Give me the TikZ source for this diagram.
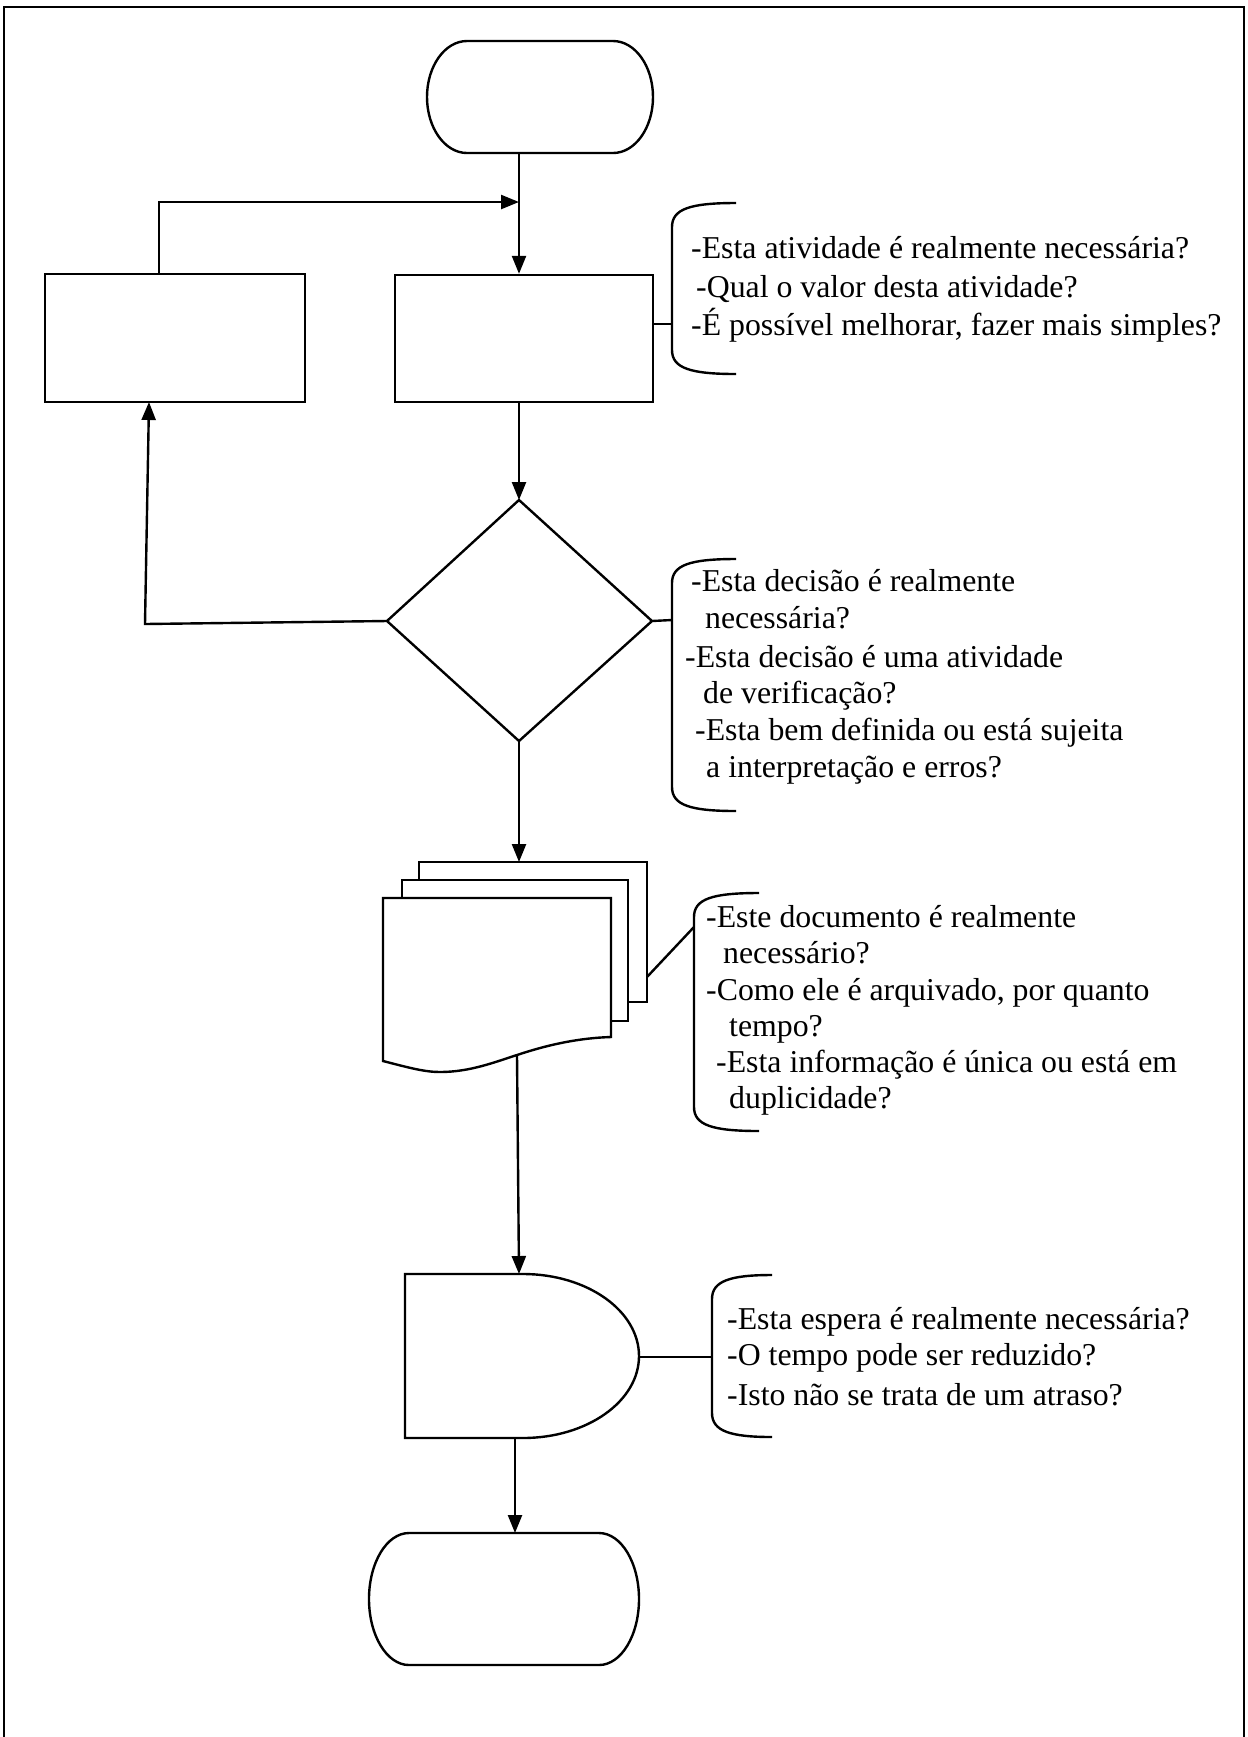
\documentclass[tikz,border=0pt]{standalone}
\usepackage{fontspec}
\setmainfont{Liberation Serif}
\usetikzlibrary{arrows.meta}
\newcommand\qbrk[4]{% L R T B
  \draw (#2,#3) .. controls (#1+18,#3) and (#1,#3+6) .. (#1,#3+24) -- (#1,#4-24) .. controls (#1,#4-6) and (#1+18,#4) .. (#2,#4);}
\begin{document}
\begin{tikzpicture}[x=0.5pt,y=-0.5pt, line width=1.2pt,
  arr/.style={-{Triangle[length=9pt,width=7pt]}},
  box/.style={draw, rectangle, inner sep=0pt, fill=white},
  qtext/.style={anchor=base west, inner sep=0pt, font=\fontsize{15.9pt}{19pt}\selectfont}]
\useasboundingbox (0,0) rectangle (1248,1737);
% frame
\draw[line width=1.3pt] (4,1737) -- (4,7) -- (1244,7) -- (1244,1737);

% start terminal
\draw (467,41) -- (613,41) .. controls (635.1,41) and (653,66.1) .. (653,97)
  .. controls (653,127.9) and (635.1,153) .. (613,153) -- (467,153)
  .. controls (444.9,153) and (427,127.9) .. (427,97)
  .. controls (427,66.1) and (444.9,41) .. (467,41) -- cycle;
\coordinate (startS) at (519,153);

% boxes
\node[box, minimum width=130pt, minimum height=64pt] (left) at (175,338) {};
\node[box, minimum width=129pt, minimum height=63.5pt] (act) at (524,338.5) {};
\coordinate (fbA) at (159,274);
\coordinate (fbB) at (519,202);

% diamond
\coordinate (dT) at (519,500);
\coordinate (dR) at (652,621);
\coordinate (dB) at (519,741);
\coordinate (dL) at (387,621);
\draw (dT) -- (dR) -- (dB) -- (dL) -- cycle;

% document stack
\draw[fill=white] (419,862) rectangle (647,1002);
\draw[fill=white] (402,880) rectangle (628,1021);
\draw[fill=white] (383,898) -- (611,898) -- (611,1037)
  .. controls (580,1038) and (550,1044) .. (517,1055)
  .. controls (495,1062) and (470,1072) .. (440,1072)
  .. controls (425,1072) and (410,1068) .. (383,1061) -- cycle;
\coordinate (docT) at (519,862);
\coordinate (docB) at (517,1055);
\coordinate (docR) at (647,977);

% delay
\draw (405,1274) -- (523,1274) .. controls (587.1,1274) and (639,1310.7) .. (639,1356)
  .. controls (639,1401.3) and (587.1,1438) .. (523,1438) -- (405,1438) -- cycle;
\coordinate (delT) at (519,1274);
\coordinate (delB) at (515,1438);
\coordinate (delR) at (639,1357);

% end terminal
\draw (409,1533) -- (599,1533) .. controls (621.1,1533) and (639,1562.5) .. (639,1599)
  .. controls (639,1635.5) and (621.1,1665) .. (599,1665) -- (409,1665)
  .. controls (386.9,1665) and (369,1635.5) .. (369,1599)
  .. controls (369,1562.5) and (386.9,1533) .. (409,1533) -- cycle;
\coordinate (endT) at (515,1533);

% connectors
\draw[arr] (startS) -- (startS |- act.north);
\draw[arr] (fbA) |- (fbB);
\draw[arr] (startS |- act.south) -- (dT);
\draw[arr] (dL) -- (145,624) -- (149,402);
\draw[arr] (dB) -- (docT);
\draw[arr] (docB) -- (delT);
\draw[arr] (delB) -- (endT);

% brackets
\qbrk{672}{736}{203}{374}
\qbrk{672}{736}{559}{811}
\qbrk{694}{759}{893}{1131}
\qbrk{712}{772}{1275}{1437}
\coordinate (b1) at (672,324);
\coordinate (b2) at (672,620);
\coordinate (b3) at (694,927);
\coordinate (b4) at (712,1357);
\draw (act.east |- b1) -- (b1);
\draw (dR) -- (b2);
\draw (docR) -- (b3);
\draw (delR) -- (b4);

% texts
\node[qtext] (t1a) at (690,258) {-Esta atividade é realmente necessária?};
\node[qtext] (t1b) at (695,297) {-Qual o valor desta atividade?};
\node[qtext] (t1c) at (690,335) {-É possível melhorar, fazer mais simples?};

\node[qtext] (t2a) at (690,591) {-Esta decisão é realmente};
\node[qtext] (t2b) at (704,628) {necessária?};
\node[qtext] (t2c) at (684,667) {-Esta decisão é uma atividade};
\node[qtext] (t2d) at (702,703) {de verificação?};
\node[qtext] (t2e) at (694,740) {-Esta bem definida ou está sujeita};
\node[qtext] (t2f) at (705,777) {a interpretação e erros?};

\node[qtext] (t3a) at (705,927) {-Este documento é realmente};
\node[qtext] (t3b) at (722,963) {necessário?};
\node[qtext] (t3c) at (705,1000) {-Como ele é arquivado, por quanto};
\node[qtext] (t3d) at (728,1036) {tempo?};
\node[qtext] (t3e) at (715,1072) {-Esta informação é única ou está em};
\node[qtext] (t3f) at (728,1108) {duplicidade?};

\node[qtext] (t4a) at (726,1329) {-Esta espera é realmente necessária?};
\node[qtext] (t4b) at (726,1365) {-O tempo pode ser reduzido?};
\node[qtext] (t4c) at (726,1405) {-Isto não se trata de um atraso?};
\end{tikzpicture}
\end{document}
